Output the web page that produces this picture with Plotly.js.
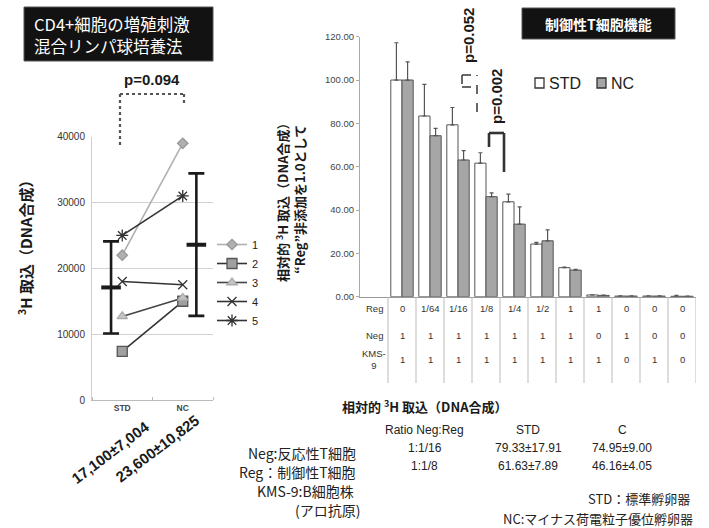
<!DOCTYPE html>
<html>
<head>
<meta charset="utf-8">
<script src="https://cdn.plot.ly/plotly-3.0.1.min.js"></script>
<style>
  html, body { margin: 0; padding: 0; background: #fff; }
  #chart { width: 709px; height: 528px; }
</style>
</head>
<body>
<div id="chart"></div>
<script>
// ---- Left panel: mixed lymphocyte culture, 3H uptake per donor ----
const groups = ['STD', 'NC'];
const donorIds = ['1', '2', '3', '4', '5'];
const stdUptake = [22000, 7400, 12700, 18000, 25000];
const ncUptake = [39000, 15000, 15500, 17500, 31000];
const meanUptake = [17100, 23600];
const sdUptake = [7004, 10825];
const meanLabels = ['17,100±7,004', '23,600±10,825'];
const uptakeTicks = [0, 10000, 20000, 30000, 40000];

// ---- Right panel: regulatory T cell function, relative 3H uptake ----
const regRow = ['0', '1/64', '1/16', '1/8', '1/4', '1/2', '1', '1', '0', '0', '0'];
const negRow = ['1', '1', '1', '1', '1', '1', '1', '0', '1', '0', '0'];
const kmsRow = ['1', '1', '1', '1', '1', '1', '1', '1', '0', '1', '0'];
const rowNames = ['Reg', 'Neg', 'KMS-<br>9'];
const stdRelative = [100, 83.4, 79.33, 61.63, 43.8, 24.3, 13.4, 0.8, 0.3, 0.3, 0.2];
const ncRelative = [100, 74.3, 63.1, 46.16, 33.5, 25.8, 12.3, 0.6, 0.3, 0.3, 0.2];
const stdErr = [17.2, 14.6, 8.0, 4.8, 3.5, 0.8, 0.3, 0.1, 0.1, 0.1, 0.4];
const ncErr = [8.4, 3.4, 4.3, 1.8, 8.0, 5.0, 0.3, 0.1, 0.1, 0.1, 0.1];

// ---- Summary table under the right panel ----
const ratioLabels = ['1:1/16', '1:1/8'];
const stdStats = ['79.33±17.91', '61.63±7.89'];
const cStats = ['74.95±9.00', '46.16±4.05'];

const W = 709, H = 528;
const px = v => v / W;
const py = v => 1 - v / H;
const LAT = 'Liberation Sans, Arial, Noto Sans CJK JP, sans-serif';
const JP = 'Noto Sans CJK JP, Liberation Sans, sans-serif';

// left panel x positions: donors at group centres, mean ± SD bars outside them
const groupX = [1, 3];
const meanX = [0.63, 3.45];

const donorStyles = [
  { symbol: 'diamond', size: 8, color: '#b0b0b0', lineColor: '#b0b0b0', mline: '#999' },
  { symbol: 'square', size: 10, color: '#a0a0a0', lineColor: '#333', mline: '#555' },
  { symbol: 'triangle-up', size: 9, color: '#c4c4c4', lineColor: '#444', mline: '#aaa' },
  { symbol: 'x-thin-open', size: 9, color: '#333', lineColor: '#333', mline: '#333' },
  { symbol: 'asterisk-open', size: 10, color: '#333', lineColor: '#333', mline: '#333' }
];

const traces = [];
donorIds.forEach((id, i) => {
  const s = donorStyles[i];
  traces.push({
    type: 'scatter', mode: 'lines+markers',
    x: groupX, y: [stdUptake[i], ncUptake[i]],
    name: id, xaxis: 'x', yaxis: 'y',
    line: { color: s.lineColor, width: 1.6 },
    marker: { symbol: s.symbol, size: s.size, color: s.color, line: { color: s.mline, width: 1.3 } },
    hoverinfo: 'skip'
  });
});
groups.forEach((g, i) => {
  traces.push({
    type: 'scatter', mode: 'markers',
    x: [meanX[i]], y: [meanUptake[i]],
    xaxis: 'x', yaxis: 'y', showlegend: false,
    marker: { symbol: 'line-ew-open', size: 14, color: '#1a1a1a', line: { color: '#1a1a1a', width: 4 } },
    error_y: { type: 'data', array: [sdUptake[i]], color: '#1a1a1a', thickness: 2.6, width: 8 },
    hoverinfo: 'skip'
  });
});

const condX = regRow.map((_, i) => i + 1);
traces.push({
  type: 'bar', name: 'STD', x: condX, y: stdRelative, xaxis: 'x2', yaxis: 'y2',
  showlegend: false,
  marker: { color: '#ffffff', line: { color: '#555', width: 1 } },
  error_y: { type: 'data', symmetric: false, array: stdErr, arrayminus: stdErr.map(() => 0),
             color: '#555', thickness: 1.2, width: 2 },
  hoverinfo: 'skip'
});
traces.push({
  type: 'bar', name: 'NC', x: condX, y: ncRelative, xaxis: 'x2', yaxis: 'y2',
  showlegend: false,
  marker: { color: '#a6a6a6', line: { color: '#555', width: 1 } },
  error_y: { type: 'data', symmetric: false, array: ncErr, arrayminus: ncErr.map(() => 0),
             color: '#555', thickness: 1.2, width: 2 },
  hoverinfo: 'skip'
});

const shapes = [];
const annotations = [];

function txt(x, y, text, opt) {
  annotations.push(Object.assign({
    xref: 'paper', yref: 'paper', x: px(x), y: py(y), text: text, showarrow: false,
    xanchor: 'center', yanchor: 'middle',
    font: { family: LAT, size: 12, color: '#222' }
  }, opt || {}));
}
function seg(x0, y0, x1, y1, line) {
  shapes.push({ type: 'line', xref: 'paper', yref: 'paper',
    x0: px(x0), y0: py(y0), x1: px(x1), y1: py(y1), line: line });
}

// title boxes
shapes.push({ type: 'rect', xref: 'paper', yref: 'paper', x0: px(24), x1: px(213), y0: py(61), y1: py(7),
  fillcolor: '#121212', line: { color: '#555', width: 1 } });
txt(32, 24, 'CD4+細胞の増殖刺激', { xanchor: 'left', font: { family: JP, size: 16.5, color: '#fff' } });
txt(32, 46, '混合リンパ球培養法', { xanchor: 'left', font: { family: JP, size: 16.5, color: '#fff' } });
shapes.push({ type: 'rect', xref: 'paper', yref: 'paper', x0: px(522), x1: px(675), y0: py(39), y1: py(8),
  fillcolor: '#121212', line: { color: '#555', width: 1 } });
txt(598, 23.5, '制御性T細胞機能', { font: { family: JP, size: 14, color: '#fff', weight: 'bold' } });

// left panel: p-value bracket
const dotted = { color: '#555', width: 2.2, dash: 'dot' };
seg(120, 94, 120, 148, dotted);
seg(120, 94, 184, 94, dotted);
seg(184, 94, 184, 105, dotted);
txt(152, 80, 'p=0.094', { font: { family: LAT, size: 15, color: '#1a1a1a', weight: 'bold' } });

// left y title
txt(25, 244, '<sup>3</sup>H 取込（DNA合成）',
  { textangle: -90, font: { family: JP, size: 15, color: '#1a1a1a', weight: 'bold' } });

// left mean ± SD labels
txt(110, 452, meanLabels[0], { textangle: -37, font: { family: LAT, size: 15, color: '#1a1a1a', weight: 'bold' } });
txt(157, 448, meanLabels[1], { textangle: -37, font: { family: LAT, size: 15, color: '#1a1a1a', weight: 'bold' } });

// right y title
txt(290, 200, '相対的 <sup>3</sup>H 取込（DNA合成）<br>“Reg”非添加を1.0として',
  { textangle: -90, font: { family: JP, size: 13, color: '#1a1a1a', weight: 'bold' } });

// right panel: p-value brackets
const dashed = { color: '#444', width: 1.6, dash: 'dash' };
seg(477, 112, 477, 75, dashed);
seg(462, 75, 477, 75, dashed);
seg(462, 75, 462, 87, dashed);
seg(462, 87, 477, 87, dashed);
txt(469, 36, 'p=0.052', { textangle: -90, font: { family: LAT, size: 15, color: '#1a1a1a', weight: 'bold' } });
const solid = { color: '#333', width: 2.6 };
seg(489, 147, 489, 133, solid);
seg(489, 133, 504, 133, solid);
seg(504, 133, 504, 172, solid);
txt(496, 97, 'p=0.002', { textangle: -90, font: { family: LAT, size: 15, color: '#1a1a1a', weight: 'bold' } });

// right panel legend
shapes.push({ type: 'rect', xref: 'paper', yref: 'paper', x0: px(535), x1: px(544), y0: py(88), y1: py(78),
  fillcolor: '#fff', line: { color: '#333', width: 1.3 } });
txt(547, 83, 'STD', { xanchor: 'left', font: { family: LAT, size: 16, color: '#222' } });
shapes.push({ type: 'rect', xref: 'paper', yref: 'paper', x0: px(597), x1: px(606), y0: py(88), y1: py(78),
  fillcolor: '#a6a6a6', line: { color: '#333', width: 1.3 } });
txt(609, 83, 'NC', { xanchor: 'left', font: { family: LAT, size: 16, color: '#222' } });

// right panel: condition table under the bars
const tableRows = [regRow, negRow, kmsRow];
const rowY = [308, 335, 359];
tableRows.forEach((row, r) => {
  annotations.push({ xref: 'x2', yref: 'paper', x: 0, y: py(rowY[r]), text: rowNames[r], showarrow: false,
    font: { family: LAT, size: 9.5, color: '#333' }, xanchor: 'center', yanchor: 'middle' });
  row.forEach((v, i) => {
    annotations.push({ xref: 'x2', yref: 'paper', x: i + 1, y: py(rowY[r]), text: v, showarrow: false,
      font: { family: LAT, size: 9.5, color: '#333' }, xanchor: 'center', yanchor: 'middle' });
  });
});
for (let k = 0; k <= regRow.length; k++) {
  shapes.push({ type: 'line', xref: 'x2', yref: 'paper', x0: k + 0.5, x1: k + 0.5, y0: py(297), y1: py(383),
    line: { color: '#bbb', width: 1 } });
}

// summary table
txt(340, 406, '相対的 <sup>3</sup>H 取込（DNA合成）',
  { xanchor: 'left', font: { family: JP, size: 13, color: '#1a1a1a', weight: 'bold' } });
txt(425, 430, 'Ratio Neg:Reg', { font: { family: LAT, size: 12, color: '#222' } });
txt(528, 430, 'STD', { font: { family: LAT, size: 12, color: '#222' } });
txt(622, 430, 'C', { font: { family: LAT, size: 12, color: '#222' } });
ratioLabels.forEach((r, i) => {
  const y = 448 + i * 18;
  txt(425, y, r, { font: { family: LAT, size: 12, color: '#222' } });
  txt(528, y, stdStats[i], { font: { family: LAT, size: 12, color: '#222' } });
  txt(622, y, cStats[i], { font: { family: LAT, size: 12, color: '#222' } });
});

// notes
const noteFont = { family: JP, size: 14, color: '#222' };
txt(358, 453, 'Neg:反応性T細胞', { xanchor: 'right', font: noteFont });
txt(358, 472, 'Reg：制御性T細胞', { xanchor: 'right', font: noteFont });
txt(356, 491, 'KMS-9:B細胞株', { xanchor: 'right', font: noteFont });
txt(327, 510, '(アロ抗原)', { font: noteFont });
const noteFont2 = { family: JP, size: 13, color: '#222' };
txt(692, 498, 'STD：標準孵卵器', { xanchor: 'right', font: noteFont2 });
txt(695, 518, 'NC:マイナス荷電粒子優位孵卵器', { xanchor: 'right', font: noteFont2 });

const layout = {
  width: W, height: H,
  margin: { l: 0, r: 0, t: 0, b: 0 },
  paper_bgcolor: '#fff', plot_bgcolor: 'rgba(0,0,0,0)',
  showlegend: true,
  legend: { x: px(212), y: py(230), xanchor: 'left', yanchor: 'top', tracegroupgap: 0,
    font: { family: LAT, size: 11, color: '#222' }, bgcolor: 'rgba(0,0,0,0)', itemwidth: 30 },
  barmode: 'group', bargap: 0.2, bargroupgap: 0,
  xaxis: {
    domain: [px(92), px(213)], range: [0, 4], anchor: 'y',
    tickvals: groupX, ticktext: groups, ticks: '', showgrid: false, zeroline: false,
    showline: true, linecolor: '#bbb', linewidth: 1,
    tickfont: { family: LAT, size: 8.5, color: '#444', weight: 'bold' },
    minor: { tickvals: [0, 2, 4], ticks: 'inside', ticklen: 3, tickcolor: '#bbb', showgrid: false }
  },
  yaxis: {
    domain: [py(400), py(136.7)], range: [0, 40000], anchor: 'x',
    tickvals: uptakeTicks, tickformat: 'd', ticks: '', showgrid: true, gridcolor: '#d2d2d2', gridwidth: 1,
    zeroline: false, showline: true, linecolor: '#cfcfcf',
    tickfont: { family: LAT, size: 10, color: '#333' }, ticklabelstandoff: 4
  },
  xaxis2: {
    domain: [px(360), px(696)], range: [-0.5, 11.5], anchor: 'y2',
    showticklabels: false, ticks: '', showgrid: false, zeroline: false,
    showline: true, linecolor: '#999', linewidth: 1
  },
  yaxis2: {
    domain: [py(296.7), py(36.7)], range: [0, 120], anchor: 'x2', dtick: 20, tickformat: '.2f',
    showgrid: false, zeroline: false, showline: true, linecolor: '#aaa',
    ticks: 'outside', ticklen: 3, tickcolor: '#aaa',
    tickfont: { family: LAT, size: 9.5, color: '#444' }
  },
  shapes: shapes,
  annotations: annotations
};

Plotly.newPlot('chart', traces, layout, { staticPlot: true, displayModeBar: false });
</script>
</body>
</html>
